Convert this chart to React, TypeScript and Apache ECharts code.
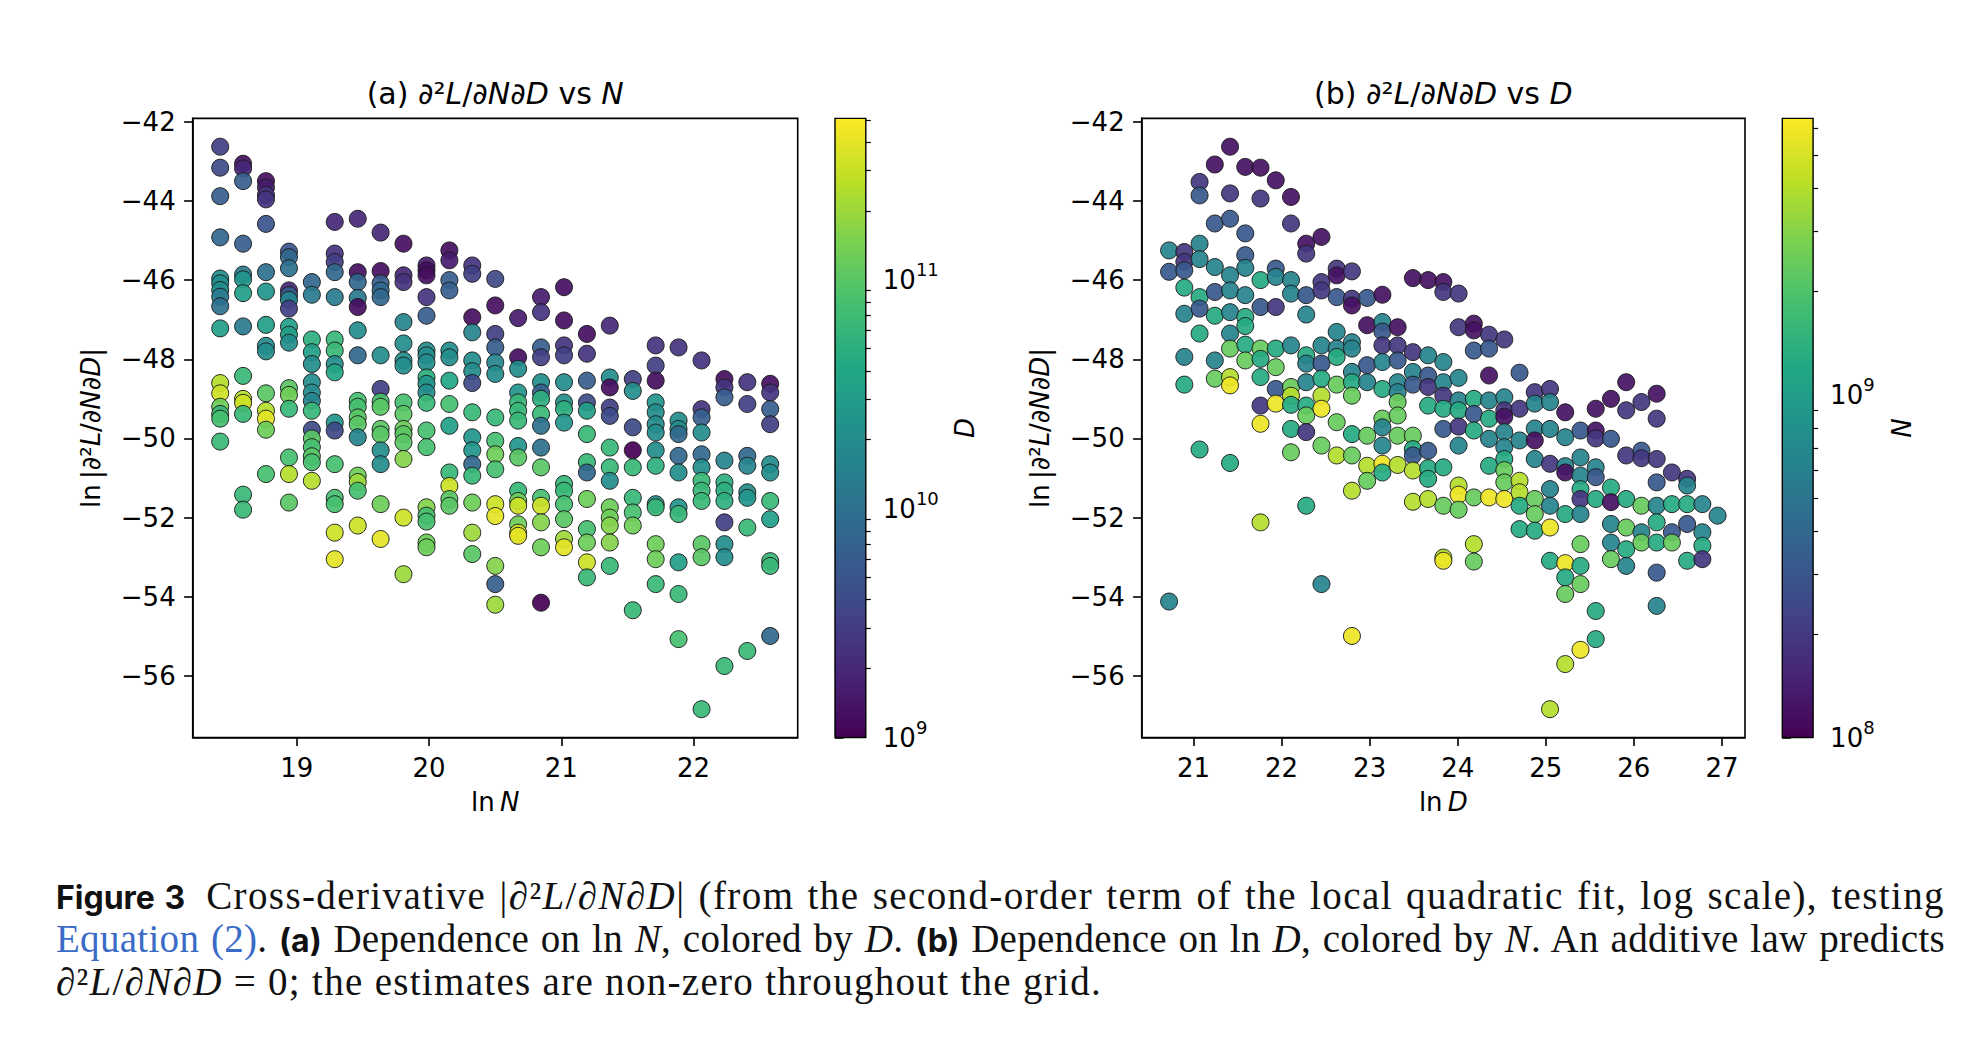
import React, { useEffect, useRef } from "react";
import * as echarts from "echarts";

const FONT = "DejaVu Sans";

// grid positions of the two parameters (ln N columns, ln D columns)
const LN_N = [18.421, 18.594, 18.767, 18.941, 19.114, 19.287, 19.461, 19.634, 19.807, 19.981, 20.154, 20.327, 20.501, 20.674, 20.847, 21.021, 21.194, 21.367, 21.541, 21.714, 21.887, 22.061, 22.234, 22.407, 22.58];
const LN_D = [20.723, 20.896, 21.069, 21.242, 21.415, 21.588, 21.761, 21.934, 22.107, 22.28, 22.453, 22.626, 22.799, 22.972, 23.145, 23.318, 23.491, 23.664, 23.837, 24.01, 24.183, 24.356, 24.529, 24.702, 24.875, 25.048, 25.221, 25.394, 25.567, 25.74, 25.913, 26.086, 26.259, 26.432, 26.605, 26.778, 26.951];

const Y_TICKS = [-56, -54, -52, -50, -48, -46, -44, -42];
const X_TICKS_A = [19, 20, 21, 22];
const X_TICKS_B = [21, 22, 23, 24, 25, 26, 27];
const D_LOG_RANGE = [9, 11.705];
const N_LOG_RANGE = [8, 9.806];
const D_MAJOR = [9, 10, 11];
const N_MAJOR = [8, 9];

// Panel (a): one list per ln N column, entries [ln|d2L/dNdD|, log10 D]
const PANEL_A: number[][][] = [
  [[-42.63,9.5],[-43.16,9.6],[-43.88,9.8],[-44.92,9.9],[-45.96,10.3],[-46.08,10.3],[-46.25,10.3],[-46.42,10.1],[-46.66,10.0],[-47.22,10.5],[-48.6,11.4],[-48.86,11.5],[-49.2,11.1],[-49.38,10.8],[-49.5,10.9],[-50.08,10.8]],
  [[-43.06,9.1],[-43.18,9.3],[-43.5,9.8],[-45.08,9.8],[-45.86,10.1],[-45.98,10.4],[-46.33,10.5],[-47.17,10.1],[-48.42,10.8],[-49.0,11.4],[-49.1,11.5],[-49.38,10.8],[-51.42,10.8],[-51.8,10.8]],
  [[-43.5,9.1],[-43.66,9.2],[-43.85,9.4],[-43.96,9.4],[-44.58,9.7],[-45.8,10.0],[-46.29,10.4],[-47.13,10.5],[-47.66,10.3],[-47.8,10.3],[-48.86,11.0],[-49.3,11.4],[-49.5,11.6],[-49.78,11.1],[-50.9,10.9]],
  [[-45.28,9.7],[-45.42,9.9],[-45.7,10.0],[-46.26,9.3],[-46.38,9.8],[-46.5,10.2],[-46.72,9.5],[-47.18,10.5],[-47.38,10.5],[-47.58,10.3],[-48.73,11.0],[-48.9,11.1],[-49.25,10.8],[-50.48,10.9],[-50.9,11.4],[-51.62,11.0]],
  [[-46.05,9.9],[-46.37,10.1],[-47.5,10.7],[-47.82,10.5],[-48.12,10.3],[-48.58,10.3],[-48.84,10.3],[-49.05,10.2],[-49.3,10.8],[-49.78,9.6],[-50.0,11.0],[-50.22,10.9],[-50.45,11.0],[-50.6,10.9],[-51.07,11.4]],
  [[-44.53,9.3],[-45.33,9.4],[-45.54,9.5],[-45.8,9.9],[-46.43,10.1],[-47.5,10.8],[-47.78,10.8],[-48.12,10.3],[-48.33,10.6],[-49.6,10.4],[-49.8,9.6],[-50.65,10.9],[-51.5,10.9],[-51.66,10.9],[-52.38,11.5],[-53.05,11.6]],
  [[-44.45,9.3],[-45.8,9.1],[-46.05,9.9],[-46.45,10.1],[-46.68,9.1],[-47.27,10.3],[-47.9,9.9],[-49.05,10.9],[-49.2,10.9],[-49.47,11.0],[-49.64,11.0],[-49.97,10.2],[-50.94,11.1],[-51.1,11.3],[-51.32,10.9],[-52.2,11.5]],
  [[-44.8,9.3],[-45.77,9.1],[-46.08,9.8],[-46.26,9.9],[-46.43,9.9],[-47.9,10.3],[-48.75,9.5],[-49.07,10.9],[-49.2,11.0],[-49.76,11.0],[-49.9,11.0],[-50.3,10.3],[-50.65,10.3],[-51.66,11.1],[-52.54,11.6]],
  [[-45.08,9.1],[-45.88,9.3],[-46.05,9.4],[-47.06,10.2],[-47.6,10.3],[-48.03,10.3],[-48.16,10.3],[-49.09,10.9],[-49.38,11.0],[-49.76,11.1],[-49.89,11.0],[-50.1,11.0],[-50.52,11.2],[-52.0,11.5],[-53.43,11.3]],
  [[-45.63,9.2],[-45.75,9.1],[-45.88,9.1],[-46.43,9.4],[-46.9,9.8],[-47.78,10.3],[-47.9,10.3],[-48.08,10.3],[-48.46,10.7],[-48.62,10.4],[-48.84,10.3],[-49.1,10.8],[-49.8,10.9],[-50.22,10.9],[-51.74,11.2],[-51.95,10.9],[-52.1,10.9],[-52.63,11.1],[-52.75,11.1]],
  [[-45.25,9.1],[-45.5,9.2],[-46.0,9.8],[-46.26,9.8],[-47.78,10.3],[-47.95,10.3],[-48.54,10.6],[-49.13,10.9],[-49.68,10.5],[-50.86,10.8],[-51.2,11.5],[-51.53,11.0],[-51.7,11.0]],
  [[-45.63,9.4],[-45.84,9.5],[-46.94,9.1],[-47.32,10.2],[-48.03,10.3],[-48.3,10.3],[-48.6,9.6],[-49.34,10.8],[-49.97,10.4],[-50.3,10.4],[-50.65,9.9],[-50.94,10.8],[-51.62,11.1],[-52.38,11.3],[-52.92,11.0]],
  [[-45.97,9.6],[-46.64,9.1],[-47.36,9.5],[-47.7,9.8],[-48.08,10.2],[-48.37,10.3],[-49.47,10.8],[-50.06,10.9],[-50.4,11.1],[-50.78,10.9],[-51.66,11.5],[-51.96,11.6],[-53.22,11.2],[-53.68,9.8],[-54.2,11.3]],
  [[-46.96,9.2],[-47.95,9.1],[-48.24,10.3],[-48.84,10.4],[-49.09,10.8],[-49.3,10.8],[-49.55,10.8],[-50.19,10.4],[-50.48,11.0],[-51.32,10.8],[-51.58,11.1],[-51.7,11.5],[-52.17,11.1],[-52.38,11.5],[-52.46,11.6]],
  [[-46.43,9.2],[-46.81,9.4],[-47.7,9.8],[-47.95,9.5],[-48.58,10.3],[-48.84,9.8],[-49.0,10.7],[-49.38,10.8],[-49.68,10.0],[-50.23,10.0],[-50.73,11.0],[-51.5,10.9],[-51.7,11.5],[-52.12,11.2],[-52.75,11.1],[-54.15,9.0]],
  [[-46.18,9.1],[-47.02,9.1],[-47.65,9.4],[-47.9,9.5],[-48.58,10.3],[-49.09,10.3],[-49.26,10.7],[-49.6,10.4],[-51.15,10.8],[-51.32,10.8],[-51.66,10.9],[-52.04,11.0],[-52.54,11.3],[-52.75,11.6]],
  [[-47.36,9.1],[-47.86,9.4],[-48.54,9.8],[-49.09,9.6],[-49.3,10.5],[-49.89,10.8],[-50.6,10.8],[-50.86,9.9],[-51.53,11.1],[-52.29,10.9],[-52.63,11.1],[-53.13,11.5],[-53.51,10.8]],
  [[-47.15,9.3],[-48.46,10.3],[-48.71,9.1],[-49.22,9.5],[-49.43,9.6],[-50.23,10.8],[-50.73,10.8],[-51.07,10.3],[-51.74,11.1],[-52.0,11.1],[-52.2,11.2],[-52.63,11.2],[-53.22,10.8]],
  [[-48.5,9.5],[-48.8,10.3],[-49.72,9.6],[-50.3,9.0],[-50.73,10.8],[-51.5,10.8],[-51.87,10.9],[-52.2,11.1],[-54.34,10.8]],
  [[-47.65,9.4],[-48.16,9.5],[-48.54,9.1],[-49.09,10.4],[-49.34,10.3],[-49.64,10.3],[-49.85,10.3],[-50.3,10.3],[-50.69,10.7],[-51.66,10.3],[-51.74,10.8],[-52.67,11.1],[-53.05,11.1],[-53.68,10.8]],
  [[-47.7,9.4],[-49.55,10.3],[-49.76,10.3],[-49.89,9.9],[-50.44,9.9],[-50.86,10.3],[-51.74,10.4],[-51.91,10.8],[-53.13,10.5],[-53.93,10.8],[-55.07,10.9]],
  [[-48.03,9.4],[-49.26,9.4],[-49.47,9.8],[-49.85,10.3],[-50.4,9.9],[-50.73,10.3],[-51.07,10.8],[-51.32,10.8],[-51.58,10.8],[-52.67,11.0],[-53.0,11.0],[-56.84,10.8]],
  [[-48.5,9.1],[-48.71,9.4],[-48.96,9.8],[-50.56,10.2],[-51.11,10.7],[-51.32,10.7],[-51.58,10.7],[-52.12,9.5],[-52.67,10.3],[-53.0,10.3],[-55.75,10.8]],
  [[-48.58,9.4],[-49.13,9.5],[-50.44,9.9],[-50.69,10.2],[-51.36,10.3],[-51.5,10.4],[-52.25,10.8],[-55.37,10.8]],
  [[-48.62,9.1],[-48.84,9.4],[-49.26,9.8],[-49.64,9.5],[-50.65,10.3],[-50.86,10.3],[-51.58,10.8],[-52.04,10.5],[-53.1,10.8],[-53.22,10.8],[-54.99,9.9]],
];

// Panel (b): colour levels (log10 N)
const N_LEVEL: Record<string, number> = { P: 8.08, I: 8.28, B: 8.5, T: 8.8, G: 9.1, L: 9.38, Y: 9.6, W: 9.76 };

// Panel (b): one list per ln D column, entries [ln|d2L/dNdD|, N colour level]
const PANEL_B: [number, string][][] = [
  [[-45.25,'T'],[-45.79,'B'],[-54.12,'T']],
  [[-45.29,'I'],[-45.54,'I'],[-45.75,'B'],[-46.19,'G'],[-46.85,'T'],[-47.94,'T'],[-48.64,'G']],
  [[-43.52,'I'],[-43.86,'B'],[-45.08,'T'],[-45.47,'T'],[-46.43,'G'],[-46.72,'B'],[-47.35,'G'],[-50.28,'G']],
  [[-43.08,'P'],[-44.57,'B'],[-45.67,'T'],[-46.3,'B'],[-46.9,'G'],[-48.03,'T'],[-48.49,'L']],
  [[-42.63,'P'],[-43.81,'I'],[-44.45,'B'],[-45.88,'T'],[-46.26,'T'],[-46.81,'T'],[-47.35,'T'],[-47.73,'L'],[-48.45,'Y'],[-48.66,'W'],[-50.62,'G']],
  [[-43.14,'P'],[-44.82,'B'],[-45.37,'B'],[-45.69,'T'],[-46.38,'T'],[-46.93,'G'],[-47.16,'G'],[-47.63,'G'],[-48.03,'L']],
  [[-43.16,'P'],[-43.94,'I'],[-46.0,'G'],[-46.68,'B'],[-47.73,'L'],[-47.99,'G'],[-48.45,'G'],[-49.17,'I'],[-49.63,'W'],[-52.12,'Y']],
  [[-43.48,'P'],[-45.71,'B'],[-45.92,'T'],[-46.68,'I'],[-47.73,'G'],[-48.2,'L'],[-48.75,'B'],[-49.12,'W']],
  [[-43.9,'P'],[-44.57,'I'],[-46.0,'T'],[-46.34,'T'],[-47.65,'T'],[-48.7,'L'],[-48.92,'Y'],[-49.15,'G'],[-49.76,'G'],[-50.35,'L']],
  [[-45.08,'P'],[-45.33,'I'],[-46.38,'B'],[-46.87,'T'],[-47.9,'G'],[-48.11,'T'],[-48.58,'T'],[-49.17,'G'],[-49.42,'L'],[-49.84,'I'],[-51.7,'G']],
  [[-44.91,'P'],[-46.05,'I'],[-46.26,'I'],[-47.65,'T'],[-48.11,'B'],[-48.49,'G'],[-48.92,'Y'],[-49.25,'W'],[-50.18,'L'],[-53.68,'T']],
  [[-45.71,'I'],[-45.88,'P'],[-46.43,'B'],[-47.31,'T'],[-47.73,'T'],[-47.94,'G'],[-48.64,'L'],[-49.59,'L'],[-50.43,'Y']],
  [[-45.78,'I'],[-46.47,'I'],[-46.64,'P'],[-47.57,'T'],[-47.73,'T'],[-48.32,'T'],[-48.58,'G'],[-48.92,'L'],[-49.89,'G'],[-50.43,'L'],[-51.32,'Y'],[-54.99,'W']],
  [[-46.45,'B'],[-47.14,'P'],[-48.15,'B'],[-48.58,'T'],[-49.93,'L'],[-50.69,'Y'],[-51.07,'L']],
  [[-46.37,'P'],[-47.06,'T'],[-47.3,'B'],[-47.65,'I'],[-48.07,'T'],[-48.75,'G'],[-49.5,'L'],[-49.72,'T'],[-50.18,'T'],[-50.64,'W'],[-50.86,'G']],
  [[-47.19,'P'],[-47.65,'I'],[-48.03,'B'],[-48.58,'T'],[-48.83,'T'],[-49.08,'L'],[-49.42,'L'],[-49.93,'L'],[-50.67,'Y']],
  [[-45.95,'P'],[-47.82,'I'],[-48.32,'T'],[-48.64,'B'],[-49.93,'L'],[-50.27,'G'],[-50.43,'B'],[-50.81,'Y'],[-51.6,'Y']],
  [[-46.0,'P'],[-47.9,'T'],[-48.41,'B'],[-48.7,'I'],[-49.17,'G'],[-50.31,'B'],[-50.75,'G'],[-51.02,'G'],[-51.53,'Y']],
  [[-46.05,'P'],[-46.3,'I'],[-48.07,'T'],[-48.58,'T'],[-48.92,'I'],[-49.25,'G'],[-49.76,'B'],[-50.73,'G'],[-51.7,'L'],[-53.01,'Y'],[-53.09,'W']],
  [[-46.34,'I'],[-47.19,'I'],[-48.47,'T'],[-49.04,'T'],[-49.29,'G'],[-49.7,'I'],[-50.18,'T'],[-51.19,'Y'],[-51.42,'W'],[-51.8,'L']],
  [[-47.1,'P'],[-47.27,'P'],[-47.78,'B'],[-49.0,'G'],[-49.38,'B'],[-49.8,'G'],[-51.49,'L'],[-52.67,'Y'],[-53.11,'L']],
  [[-47.38,'I'],[-47.73,'B'],[-48.41,'P'],[-49.04,'T'],[-49.5,'G'],[-50.01,'T'],[-50.69,'G'],[-51.49,'W']],
  [[-47.5,'I'],[-48.96,'T'],[-49.29,'I'],[-49.45,'P'],[-49.84,'T'],[-50.22,'T'],[-50.52,'G'],[-50.8,'L'],[-51.11,'L'],[-51.53,'W']],
  [[-48.34,'B'],[-49.25,'I'],[-50.05,'T'],[-51.07,'Y'],[-51.36,'Y'],[-51.7,'G'],[-52.29,'G']],
  [[-48.83,'I'],[-49.12,'T'],[-49.75,'T'],[-50.05,'P'],[-50.52,'T'],[-51.53,'L'],[-51.91,'L'],[-52.33,'G']],
  [[-48.75,'I'],[-49.08,'T'],[-49.76,'T'],[-50.64,'I'],[-51.28,'T'],[-51.7,'T'],[-52.25,'W'],[-53.09,'G'],[-56.84,'Y']],
  [[-49.34,'P'],[-49.97,'T'],[-50.7,'T'],[-50.86,'P'],[-51.91,'G'],[-53.15,'W'],[-53.51,'G'],[-53.93,'L'],[-55.7,'Y']],
  [[-49.8,'B'],[-50.48,'T'],[-50.94,'T'],[-51.28,'G'],[-51.53,'I'],[-51.91,'T'],[-52.67,'L'],[-53.22,'G'],[-53.68,'L'],[-55.34,'W']],
  [[-49.25,'P'],[-49.8,'P'],[-50.0,'I'],[-50.73,'T'],[-50.98,'B'],[-51.53,'G'],[-54.36,'G'],[-55.07,'G']],
  [[-49.0,'P'],[-50.01,'B'],[-51.24,'G'],[-51.61,'P'],[-52.16,'T'],[-52.63,'T'],[-53.05,'L']],
  [[-48.58,'P'],[-49.29,'I'],[-50.43,'I'],[-51.53,'G'],[-52.25,'L'],[-52.8,'G'],[-53.22,'T']],
  [[-49.08,'I'],[-50.31,'B'],[-50.5,'I'],[-51.7,'L'],[-52.37,'T'],[-52.63,'L']],
  [[-48.87,'P'],[-49.5,'I'],[-50.52,'I'],[-51.11,'B'],[-51.7,'T'],[-52.12,'G'],[-52.63,'G'],[-53.39,'B'],[-54.23,'T']],
  [[-50.86,'I'],[-51.66,'G'],[-52.37,'B'],[-52.63,'L']],
  [[-51.02,'I'],[-51.19,'T'],[-51.66,'G'],[-52.16,'B'],[-53.09,'G']],
  [[-51.66,'T'],[-52.37,'T'],[-52.71,'G'],[-53.05,'I']],
  [[-51.95,'T']],
];

const VIRIDIS = ["#440154", "#482475", "#414487", "#355f8d", "#2a788e", "#21918c", "#22a884", "#44bf70", "#7ad151", "#bddf26", "#fde725"];

// layout (px)
const TOP = 118.4;
const H = 619.1;
const A_LEFT = 192.7, A_W = 605;
const B_LEFT = 1141.7, B_W = 603.3;
const CBA_LEFT = 835, CBB_LEFT = 1782.3, CB_W = 30.8;
const AX_COLOR = "#000";
const LW = 1.6;
const FS = 26; // tick / label font size
const TITLE_FS = 30;

function minorTicks(lo: number, hi: number): number[] {
  const out: number[] = [];
  for (let e = Math.floor(lo); e <= Math.ceil(hi); e++) {
    for (let k = 2; k <= 9; k++) {
      const v = e + Math.log10(k);
      if (v > lo && v < hi) out.push(v);
    }
  }
  return out;
}

const minusFmt = (v: number) => (v < 0 ? "\u2212" + Math.abs(v) : String(v));

const mathRich = (size: number) => ({
  r: { fontSize: size, fontFamily: FONT, color: "#000" },
  i: { fontSize: size, fontFamily: FONT, fontStyle: "italic", color: "#000" },
});
const mathRichFill = (size: number) => ({
  r: { fontSize: size, fontFamily: FONT, fill: "#000" },
  i: { fontSize: size, fontFamily: FONT, fontStyle: "italic", fill: "#000" },
});

const Y_NAME = "{r|ln\u2009|}{i|\u2202}{r|\u00b2}{i|L}{r|/}{i|\u2202N\u2202D}{r||}";

function plotAxes(gridIndex: number, min: number, max: number, ticks: number[], xname: string) {
  const x = {
    gridIndex, type: "value", min, max,
    axisLine: { show: true, onZero: false, lineStyle: { color: AX_COLOR, width: LW } },
    axisTick: { show: true, length: 8.6, customValues: ticks, lineStyle: { color: AX_COLOR, width: LW } },
    axisLabel: { customValues: ticks, color: "#000", fontSize: FS, fontFamily: FONT, margin: 17 },
    splitLine: { show: false },
    name: xname, nameLocation: "middle", nameGap: 51,
    nameTextStyle: { fontSize: FS, fontFamily: FONT, color: "#000", rich: mathRich(FS) },
  };
  const y = {
    gridIndex, type: "value", min: -57.555, max: -41.915,
    axisLine: { show: true, onZero: false, lineStyle: { color: AX_COLOR, width: LW } },
    axisTick: { show: true, length: 8.6, customValues: Y_TICKS, lineStyle: { color: AX_COLOR, width: LW } },
    axisLabel: { customValues: Y_TICKS, color: "#000", fontSize: FS, fontFamily: FONT, margin: 17, formatter: minusFmt },
    splitLine: { show: false },
    name: Y_NAME, nameLocation: "middle", nameRotate: 90, nameGap: 89,
    nameTextStyle: { fontSize: FS, fontFamily: FONT, color: "#000", rich: mathRich(FS) },
  };
  return { x, y };
}

function cbAxes(gridIndex: number, range: number[], major: number[], name: string, nameGap: number) {
  const x = { gridIndex, type: "value", min: 0, max: 1, show: false };
  const yMajor = {
    gridIndex, type: "value", min: range[0], max: range[1], position: "right",
    axisLine: { show: false },
    axisTick: { show: true, length: 8.6, customValues: major, lineStyle: { color: AX_COLOR, width: LW } },
    axisLabel: {
      customValues: major, margin: 17, padding: [0, 0, 12, 0],
      formatter: (v: number) => `{b|10}{s|${Math.round(v)}}`,
      rich: {
        b: { fontSize: FS, fontFamily: FONT, color: "#000", padding: [12, 0, 0, 0] },
        s: { fontSize: 18, fontFamily: FONT, color: "#000", padding: [0, 0, 8, 0] },
      },
    },
    splitLine: { show: false },
    name, nameLocation: "middle", nameRotate: 90, nameGap,
    nameTextStyle: { fontSize: FS, fontFamily: FONT, fontStyle: "italic", color: "#000" },
  };
  const yMinor = {
    gridIndex, type: "value", min: range[0], max: range[1], position: "right",
    axisLine: { show: false },
    axisTick: { show: true, length: 5, customValues: minorTicks(range[0], range[1]), lineStyle: { color: AX_COLOR, width: 1.2 } },
    axisLabel: { show: false },
    splitLine: { show: false },
  };
  return { x, yMajor, yMinor };
}

function colorbarSeries(xIdx: number, yIdx: number, range: number[]) {
  return {
    type: "custom", xAxisIndex: xIdx, yAxisIndex: yIdx, silent: true, clip: false,
    data: [[0, range[0]]],
    renderItem: (_p: any, api: any) => {
      const p0 = api.coord([0, range[1]]);
      const p1 = api.coord([1, range[0]]);
      return {
        type: "rect",
        shape: { x: p0[0], y: p0[1], width: p1[0] - p0[0], height: p1[1] - p0[1] },
        style: {
          fill: new echarts.graphic.LinearGradient(0, 1, 0, 0, VIRIDIS.map((c, i) => ({ offset: i / (VIRIDIS.length - 1), color: c }))),
          stroke: "#000", lineWidth: 1.4,
        },
      };
    },
  };
}

function buildOption() {
  const dataA = PANEL_A.flatMap((col, k) => col.map(([y, d]) => [LN_N[k], y, d]));
  const dataB = PANEL_B.flatMap((col, j) => col.map(([y, c]) => [LN_D[j], y, N_LEVEL[c]]));

  const a = plotAxes(0, 18.213, 22.788, X_TICKS_A, "{r|ln\u2009}{i|N}");
  const b = plotAxes(1, 20.412, 27.262, X_TICKS_B, "{r|ln\u2009}{i|D}");
  const ca = cbAxes(2, D_LOG_RANGE, D_MAJOR, "D", 86);
  const cb = cbAxes(3, N_LOG_RANGE, N_MAJOR, "N", 76);

  const gridBase = { top: TOP, height: H, containLabel: false };
  const scatterStyle = { borderColor: "#1a1a1a", borderWidth: 1, opacity: 0.92 };

  return {
    animation: false,
    backgroundColor: "#ffffff",
    textStyle: { fontFamily: FONT },
    grid: [
      { ...gridBase, left: A_LEFT, width: A_W, show: true, borderColor: AX_COLOR, borderWidth: LW, backgroundColor: "transparent" },
      { ...gridBase, left: B_LEFT, width: B_W, show: true, borderColor: AX_COLOR, borderWidth: LW, backgroundColor: "transparent" },
      { ...gridBase, left: CBA_LEFT, width: CB_W },
      { ...gridBase, left: CBB_LEFT, width: CB_W },
    ],
    xAxis: [a.x, b.x, ca.x, cb.x],
    yAxis: [a.y, b.y, ca.yMajor, ca.yMinor, cb.yMajor, cb.yMinor],
    visualMap: [
      { type: "continuous", show: false, seriesIndex: 0, dimension: 2, min: D_LOG_RANGE[0], max: D_LOG_RANGE[1], inRange: { color: VIRIDIS } },
      { type: "continuous", show: false, seriesIndex: 1, dimension: 2, min: N_LOG_RANGE[0], max: N_LOG_RANGE[1], inRange: { color: VIRIDIS } },
    ],
    series: [
      { type: "scatter", xAxisIndex: 0, yAxisIndex: 0, symbolSize: 17, itemStyle: scatterStyle, data: dataA, silent: true },
      { type: "scatter", xAxisIndex: 1, yAxisIndex: 1, symbolSize: 17, itemStyle: scatterStyle, data: dataB, silent: true },
      colorbarSeries(2, 2, D_LOG_RANGE),
      colorbarSeries(3, 4, N_LOG_RANGE),
    ],
    graphic: [
      {
        type: "text", x: A_LEFT + A_W / 2, y: 93, silent: true,
        style: {
          text: "{r|(a) }{i|\u2202}{r|\u00b2}{i|L}{r|/}{i|\u2202N\u2202D}{r| vs }{i|N}",
          rich: mathRichFill(TITLE_FS), align: "center", verticalAlign: "middle", fontSize: TITLE_FS, fontFamily: FONT,
        },
      },
      {
        type: "text", x: B_LEFT + B_W / 2, y: 93, silent: true,
        style: {
          text: "{r|(b) }{i|\u2202}{r|\u00b2}{i|L}{r|/}{i|\u2202N\u2202D}{r| vs }{i|D}",
          rich: mathRichFill(TITLE_FS), align: "center", verticalAlign: "middle", fontSize: TITLE_FS, fontFamily: FONT,
        },
      },
    ],
  };
}

const CAP_FONT = "'Liberation Serif', serif";
const BOLD_FONT = "Inter, 'Liberation Sans', sans-serif";

function Caption() {
  const line: React.CSSProperties = { whiteSpace: "nowrap", height: 43, lineHeight: "43px" };
  const just: React.CSSProperties = { ...line, textAlign: "justify", textAlignLast: "justify" as any };
  const bold: React.CSSProperties = { fontFamily: BOLD_FONT, fontWeight: 700, fontSize: 32, letterSpacing: 0 };
  return (
    <div style={{ position: "absolute", left: 56, top: 874, width: 1889, fontFamily: CAP_FONT, fontSize: 39, color: "#111" }}>
      <div style={{ ...just, letterSpacing: 1.4 }}>
        <span style={bold}>Figure 3</span>{"\u2002"}Cross-derivative |∂²<i>L</i>/∂<i>N</i>∂<i>D</i>| (from the second-order term of the local quadratic fit, log scale), testing
      </div>
      <div style={{ ...just, letterSpacing: 0.3 }}>
        <span style={{ color: "#3a6bc6" }}>Equation (2)</span>. <span style={bold}>(a)</span> Dependence on ln <i>N</i>, colored by <i>D</i>. <span style={bold}>(b)</span> Dependence on ln <i>D</i>, colored by <i>N</i>. An additive law predicts
      </div>
      <div style={{ ...line, letterSpacing: 1.3 }}>
        ∂²<i>L</i>/∂<i>N</i>∂<i>D</i> = 0; the estimates are non-zero throughout the grid.
      </div>
    </div>
  );
}

export default function App() {
  const ref = useRef<HTMLDivElement>(null);
  useEffect(() => {
    document.body.style.margin = "0";
    if (!ref.current) return;
    const chart = echarts.init(ref.current, null, { renderer: "svg" });
    chart.setOption(buildOption() as any);
    return () => chart.dispose();
  }, []);
  return (
    <div style={{ position: "relative", width: 1974, height: 1060, background: "#fff", overflow: "hidden" }}>
      <div ref={ref} style={{ position: "absolute", left: 0, top: 0, width: 1974, height: 1060 }} />
      <Caption />
    </div>
  );
}
